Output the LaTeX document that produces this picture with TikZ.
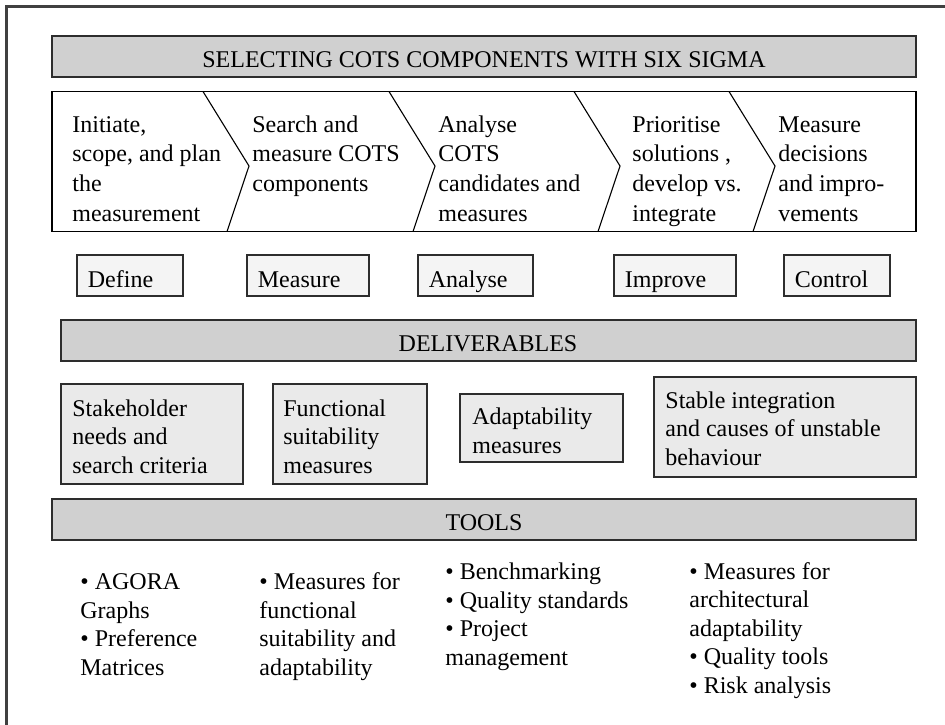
\documentclass[tikz,border=0pt]{standalone}
\usepackage{fontspec}
\setmainfont{Liberation Serif}
\usetikzlibrary{positioning}

\definecolor{framegray}{RGB}{64,64,64}
\definecolor{edgegray}{RGB}{45,45,45}
\definecolor{barfill}{RGB}{208,208,208}
\definecolor{delfill}{RGB}{234,234,234}
\definecolor{phasefill}{RGB}{244,244,244}

\tikzset{
  bar/.style={draw=edgegray, line width=0.75pt, fill=barfill},
  delbox/.style={draw=edgegray, line width=0.6pt, fill=delfill},
  phasebox/.style={draw=edgegray, line width=0.6pt, fill=phasefill},
  chev/.style={draw=black, line width=0.55pt},
  head/.style={anchor=base, inner sep=0pt, font=\fontsize{12}{14.5}\selectfont},
  % multi-line texts are placed by the baseline of their last line
  steptext/.style={anchor=base west, inner sep=0pt, align=left, font=\fontsize{12}{14.8}\selectfont},
  itemtext/.style={anchor=base west, inner sep=0pt, align=left, font=\fontsize{12}{14.2}\selectfont},
}

\begin{document}
\begin{tikzpicture}[x=0.5pt, y=-0.5pt]
  \useasboundingbox (0,0) rectangle (945,724);

  % outer frame, cut by the page
  \draw[framegray, line width=1.25pt] (6.5,760) -- (6.5,6.5) -- (980,6.5);

  % title
  \draw[bar] (52,36) rectangle (916,77);
  \node[head] (title) at (484,67) {SELECTING COTS COMPONENTS WITH SIX SIGMA};

  % chevron strip
  \draw[chev] (52,91.5) rectangle (916,231.5);
  \foreach \t in {203,389,574,729}
    \draw[chev] (\t,91.5) -- (\t+46,166) -- (\t+24,231.5);

  \node[steptext] (step1) at (72,221) {Initiate,\\scope, and plan\\the\\measurement};
  \node[steptext] (step2) at (252,191.4) {Search and\\measure COTS\\components};
  \node[steptext] (step3) at (438,221) {Analyse\\COTS\\candidates and\\measures};
  \node[steptext] (step4) at (632,221) {Prioritise\\solutions ,\\develop vs.\\integrate};
  \node[steptext] (step5) at (778,221) {Measure\\decisions\\and impro-\\vements};

  % DMAIC phases
  \foreach \a/\b/\name in {77/183/Define, 247/369/Measure, 418/533/Analyse, 614/736/Improve, 784/890/Control}{
    \draw[phasebox] (\a,255) rectangle (\b,296);
    \node[head, anchor=base west] (phase-\name) at (\a+10.5,287) {\name};
  }

  % deliverables
  \draw[bar] (61,320) rectangle (916,361);
  \node[head] (deliv) at (488,351) {DELIVERABLES};

  \draw[delbox] (61,384) rectangle (243,484);
  \node[itemtext] (del1) at (72,473) {Stakeholder\\needs and\\search criteria};
  \draw[delbox] (273,384) rectangle (427,484);
  \node[itemtext] (del2) at (283,473) {Functional\\suitability\\measures};
  \draw[delbox] (460,394) rectangle (623,462);
  \node[itemtext] (del3) at (472,453) {Adaptability\\measures};
  \draw[delbox] (654,377) rectangle (916,477);
  \node[itemtext] (del4) at (665,465) {Stable integration\\and causes of unstable\\behaviour};

  % tools
  \draw[bar] (52,499) rectangle (916,540);
  \node[head] (tools) at (484,530) {TOOLS};

  \node[itemtext] (tool1) at (80,675) {• AGORA\\Graphs\\• Preference\\Matrices};
  \node[itemtext] (tool2) at (259,675) {• Measures for\\functional\\suitability and\\adaptability};
  \node[itemtext] (tool3) at (445,665) {• Benchmarking\\• Quality standards\\• Project\\management};
  \node[itemtext] (tool4) at (689,693) {• Measures for\\architectural\\adaptability\\• Quality tools\\• Risk analysis};
\end{tikzpicture}
\end{document}
